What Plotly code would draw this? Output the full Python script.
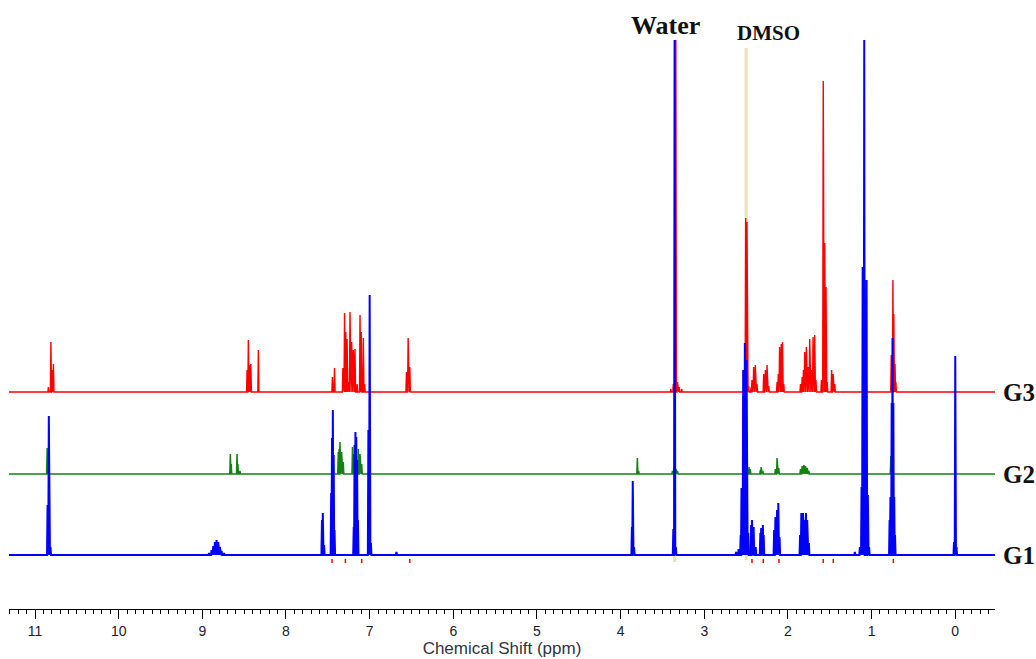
import plotly.graph_objects as go

# ---------------- data (ppm, peak intensity) ----------------
g1_ppm = [10.85, 10.835, 10.815,
          8.92, 8.89, 8.87, 8.85, 8.83, 8.81, 8.79, 8.77, 8.74,
          7.57, 7.56, 7.545,
          7.46, 7.45, 7.44, 7.43, 7.42,
          7.19, 7.18, 7.17, 7.16, 7.15, 7.14,
          7.015, 7.0, 6.985,
          6.68,
          3.865, 3.855, 3.84,
          3.37, 3.355, 3.34,
          2.62, 2.59, 2.565, 2.555, 2.535, 2.515, 2.495, 2.475,
          2.44, 2.43, 2.41, 2.385,
          2.33, 2.32, 2.30, 2.29,
          2.165, 2.15, 2.13, 2.115, 2.10,
          1.855, 1.84, 1.82, 1.80, 1.785, 1.77, 1.75,
          1.20, 1.14, 1.12, 1.107, 1.088, 1.06, 1.045, 1.03,
          0.785, 0.775, 0.76, 0.75, 0.74, 0.73, 0.72,
          0.015, 0.0, -0.015]
g1_int = [50, 139, 8,
          2, 5, 9, 13, 15, 13, 8, 4, 2,
          35, 42, 10,
          62, 117, 145, 100, 25,
          28, 110, 123, 118, 95, 35,
          125, 260, 12,
          3,
          28, 74, 8,
          26, 515, 8,
          3, 6, 20, 67, 185, 212, 195, 22,
          30, 35, 28, 8,
          22, 27, 30, 20,
          25, 38, 45, 52, 18,
          20, 42, 42, 35, 42, 35, 12,
          3, 8, 68, 288, 515, 275, 60, 8,
          35, 58, 152, 217, 152, 58, 20,
          13, 199, 8]

g2_ppm = [10.855, 10.845,
          8.665, 8.655, 8.585, 8.575, 8.55,
          7.435, 7.375, 7.365, 7.355, 7.335, 7.315,
          7.205, 7.19, 7.17, 7.135, 7.115, 7.095,
          3.80, 3.785,
          3.38, 3.36, 3.34, 3.32,
          2.51, 2.49, 2.465, 2.45,
          2.33, 2.32, 2.30,
          2.15, 2.13, 2.11,
          1.85, 1.83, 1.81, 1.79, 1.77, 1.75,
          0.77, 0.76]
g2_int = [26, 14,
          20, 10, 20, 10, 3,
          12, 22, 25, 32, 22, 12,
          27, 20, 8, 25, 20, 10,
          16, 3,
          3, 8, 5, 3,
          12, 10, 7, 5,
          4, 7, 3,
          5, 16, 6,
          5, 8, 9, 8, 6, 3,
          18, 6]

g3_ppm = [10.84, 10.81, 10.795, 10.78,
          8.465, 8.45, 8.435, 8.42, 8.33,
          7.445, 7.42, 7.32, 7.30, 7.285, 7.27, 7.255,
          7.235, 7.215, 7.195, 7.175, 7.15, 7.115, 7.10, 7.075, 7.06,
          6.56, 6.54, 6.52,
          3.40, 3.37, 3.34, 3.32, 3.30, 3.27,
          2.505, 2.49, 2.47,
          2.44, 2.43, 2.41, 2.39, 2.37,
          2.29, 2.27, 2.25, 2.23,
          2.13, 2.115, 2.10, 2.08, 2.065, 2.05,
          1.85, 1.83, 1.815, 1.80, 1.78, 1.76, 1.74, 1.72, 1.70, 1.68, 1.665,
          1.60, 1.578, 1.56, 1.545, 1.53,
          1.478, 1.46, 1.44,
          0.765, 0.745, 0.735, 0.72, 0.71]
g3_int = [5, 50, 22, 28,
          22, 52, 27, 28, 42,
          15, 24, 24, 79, 60, 53, 10,
          80, 50, 42, 43, 8, 77, 60, 54, 8,
          20, 54, 25,
          3, 8, 352, 10, 5, 3,
          174, 170, 6,
          5, 12, 25, 27, 8,
          18, 22, 27, 6,
          10, 18, 45, 48, 50, 8,
          8, 15, 22, 40, 45, 25, 53, 22, 55, 57, 12,
          12, 311, 149, 105, 10,
          22, 18, 8,
          37, 112, 78, 28, 10]

# small red marks seen under the G1 trace
mark_ppm = [7.45, 7.29, 7.095, 6.52, 2.43, 2.295, 2.107, 1.578, 1.458, 0.74]

series_names = ["G3", "G2", "G1"]
tick_vals = [11, 10, 9, 8, 7, 6, 5, 4, 3, 2, 1, 0]
dmso_ppm = 2.5
water_ppm = 3.355

# ---------------- layout constants ----------------
X_LEFT, X_RIGHT = 11.311, -0.475
BASE = {"G1": 54, "G2": 135, "G3": 217}
HW = 0.0065


def spectrum(ppm, inten, offset):
    pairs = sorted(zip(ppm, inten), key=lambda t: -t[0])
    xs, ys = [X_LEFT], [offset]
    for p, h in pairs:
        xs += [p + HW, p, p - HW]
        ys += [offset, offset + h, offset]
    xs.append(X_RIGHT)
    ys.append(offset)
    return xs, ys


fig = go.Figure()

# DMSO marker line and water foot (drawn below traces)
fig.add_shape(type="line", x0=dmso_ppm, x1=dmso_ppm, y0=49, y1=561,
              line=dict(color="#e6e2b6", width=3), layer="below")
fig.add_shape(type="line", x0=water_ppm, x1=water_ppm, y0=47, y1=62,
              line=dict(color="#e6e2b6", width=3), layer="below")

specs = [("G3", g3_ppm, g3_int, "#ff0000", 1.4),
         ("G2", g2_ppm, g2_int, "#128212", 1.5),
         ("G1", g1_ppm, g1_int, "#0000ff", 2.0)]
for name, p, h, col, w in specs:
    xs, ys = spectrum(p, h, BASE[name])
    fig.add_trace(go.Scatter(x=xs, y=ys, mode="lines", name=name,
                             line=dict(color=col, width=w),
                             hoverinfo="skip", showlegend=False))

fig.add_trace(go.Scatter(x=mark_ppm, y=[BASE["G1"] - 6] * len(mark_ppm),
                         mode="markers", showlegend=False, hoverinfo="skip",
                         marker=dict(symbol="line-ns", size=3,
                                     line=dict(color="#ff0000", width=1.5))))

# labels
serif = "Liberation Serif, Times New Roman, serif"
for name in series_names:
    fig.add_annotation(x=1.006, xref="paper", y=BASE[name], yref="y",
                       text="<b>%s</b>" % name, showarrow=False,
                       xanchor="left", yanchor="middle",
                       font=dict(family=serif, size=25, color="#111111"))
fig.add_annotation(x=3.46, y=584, text="<b>Water</b>", showarrow=False,
                   font=dict(family=serif, size=26, color="#111111"))
fig.add_annotation(x=2.227, y=576, text="<b>DMSO</b>", showarrow=False,
                   font=dict(family=serif, size=21, color="#111111"))

fig.update_layout(
    width=1036, height=659,
    margin=dict(l=9, r=41, t=0, b=50),
    paper_bgcolor="white", plot_bgcolor="white",
    xaxis=dict(range=[X_LEFT, X_RIGHT], showgrid=False, zeroline=False,
               showline=True, linecolor="black", linewidth=1,
               ticks="outside", ticklen=9, tickwidth=1, tickcolor="black",
               tickvals=tick_vals, ticktext=[str(v) for v in tick_vals],
               tickfont=dict(family="Liberation Sans, Arial", size=14, color="#1a1a30"),
               minor=dict(dtick=0.1, tick0=0, ticks="outside", ticklen=4,
                          tickwidth=1, tickcolor="black", showgrid=False),
               title=dict(text="Chemical Shift (ppm)", standoff=1,
                          font=dict(family="Liberation Sans, Arial", size=17, color="#333340")),
               automargin=False),
    yaxis=dict(range=[0, 609], visible=False, fixedrange=True),
)

fig.write_html("out.html")
